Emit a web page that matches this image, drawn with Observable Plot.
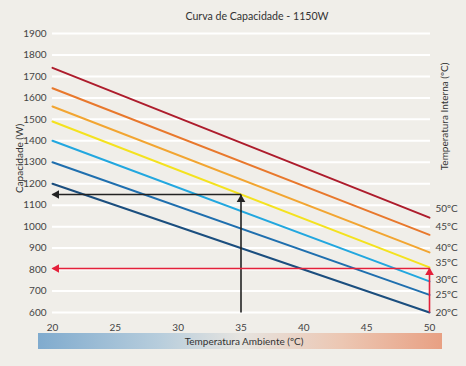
<!DOCTYPE html>
<html><head><meta charset="utf-8">
<script src="https://cdn.jsdelivr.net/npm/d3@7"></script>
<script src="https://cdn.jsdelivr.net/npm/@observablehq/plot@0.6"></script>
<style>
html,body{margin:0;padding:0;background:#f0eee9;}
#wrap{position:relative;width:466px;height:366px;font-family:Lato,"Open Sans",sans-serif;color:#333;}
#title{position:absolute;left:24px;width:466px;top:10px;text-align:center;font-size:10.6px;color:#333;}
#bar{position:absolute;left:38px;top:333px;width:404px;height:16px;background:linear-gradient(to right,#80abce 0%,#b7cddc 30%,#e6e4e0 50%,#ecc7b3 75%,#e8a083 100%);font-size:10px;line-height:16px;text-align:center;color:#333;}
#bar span{position:relative;left:4px;}
#chart{position:absolute;left:0;top:0;}
</style></head>
<body><div id="wrap"><div id="chart"></div><div id="title">Curva de Capacidade - 1150W</div><div id="bar"><span>Temperatura Ambiente (ºC)</span></div></div>
<script>
const internalTemps = [20, 25, 30, 35, 40, 45, 50];
const capAt20 = [1200, 1300, 1400, 1490, 1560, 1645, 1740];
const capAt50 = [600, 682, 745, 810, 880, 962, 1042];
const lineColors = ["#1b4e7e", "#1f6fae", "#22a7df", "#f4e21e", "#f2a531", "#e8782c", "#ad1c2c"];
const labelNudge = [0, 0, -2, -5, -5, -8, -9];
const ambientTicks = [20, 25, 30, 35, 40, 45, 50];
const capTicks = [600, 700, 800, 900, 1000, 1100, 1200, 1300, 1400, 1500, 1600, 1700, 1800, 1900];
const exampleBlack = {ambient: 35, cap: 1150};
const exampleRed = {ambient: 50, cap: 805};

const rows = [];
internalTemps.forEach((t, i) => {
  rows.push({t, x: 20, y: capAt20[i]});
  rows.push({t, x: 50, y: capAt50[i]});
});
const labels = internalTemps.map((t, i) => ({t, y: capAt50[i], label: t + "ºC", nudge: labelNudge[i]}));

const xmin = ambientTicks[0], xmax = ambientTicks[ambientTicks.length - 1];
const ymin = capTicks[0];

const marks = [
  Plot.ruleY(capTicks, {x1: xmin, x2: xmax, stroke: "#ffffff", strokeWidth: 2, insetRight: -1}),
  Plot.axisY(capTicks, {tickSize: 0, tickPadding: 6, fontSize: 10, fill: "#444", label: null, tickFormat: d => String(d)}),
  Plot.axisX(ambientTicks, {tickSize: 0, tickPadding: 11, fontSize: 10, fill: "#444", label: null, tickFormat: d => String(d)}),
  Plot.line(rows, {x: "x", y: "y", z: "t", stroke: d => lineColors[internalTemps.indexOf(d.t)], strokeWidth: 2})
];
labels.forEach(d => {
  marks.push(Plot.text([d], {x: xmax, y: "y", text: "label", textAnchor: "start", dx: 6, dy: d.nudge, fontSize: 10, fill: "#444"}));
});
// black example
marks.push(Plot.link([exampleBlack], {x1: "ambient", x2: "ambient", y1: ymin, y2: "cap", stroke: "#222", strokeWidth: 1.6}));
marks.push(Plot.link([exampleBlack], {x1: "ambient", x2: xmin, y1: "cap", y2: "cap", stroke: "#222", strokeWidth: 1.6}));
marks.push(Plot.dot([exampleBlack], {x: "ambient", y: "cap", symbol: "triangle", r: 3.2, fill: "#222", dy: 5}));
marks.push(Plot.dot([exampleBlack], {x: xmin, y: "cap", symbol: "triangle", r: 3.2, fill: "#222", rotate: -90, dx: 4}));
// red example
marks.push(Plot.link([exampleRed], {x1: "ambient", x2: xmin, y1: "cap", y2: "cap", stroke: "#e4203a", strokeWidth: 1.6}));
marks.push(Plot.link([exampleRed], {x1: "ambient", x2: "ambient", y1: ymin, y2: "cap", stroke: "#e4203a", strokeWidth: 1.6}));
marks.push(Plot.dot([exampleRed], {x: "ambient", y: "cap", symbol: "triangle", r: 3.2, fill: "#e4203a", dy: 4}));
marks.push(Plot.dot([exampleRed], {x: xmin, y: "cap", symbol: "triangle", r: 3.2, fill: "#e4203a", rotate: -90, dx: 4}));
// axis titles
marks.push(Plot.text(["Capacidade (W)"], {frameAnchor: "top-left", textAnchor: "middle", lineAnchor: "middle", dx: -33, dy: 125, rotate: -90, fontSize: 10, fill: "#333"}));
marks.push(Plot.text(["Temperatura Interna (ºC)"], {frameAnchor: "top-right", textAnchor: "middle", lineAnchor: "middle", dx: 15, dy: 83, rotate: -90, fontSize: 10, fill: "#333"}));

const chart = Plot.plot({
  width: 466, height: 366,
  marginLeft: 52, marginRight: 37, marginTop: 33, marginBottom: 54,
  x: {domain: [xmin, xmax]},
  y: {domain: [ymin, capTicks[capTicks.length - 1]]},
  style: {background: "transparent", fontFamily: "Lato, 'Open Sans', sans-serif", overflow: "visible"},
  marks
});
document.getElementById("chart").appendChild(chart);
</script></body></html>
